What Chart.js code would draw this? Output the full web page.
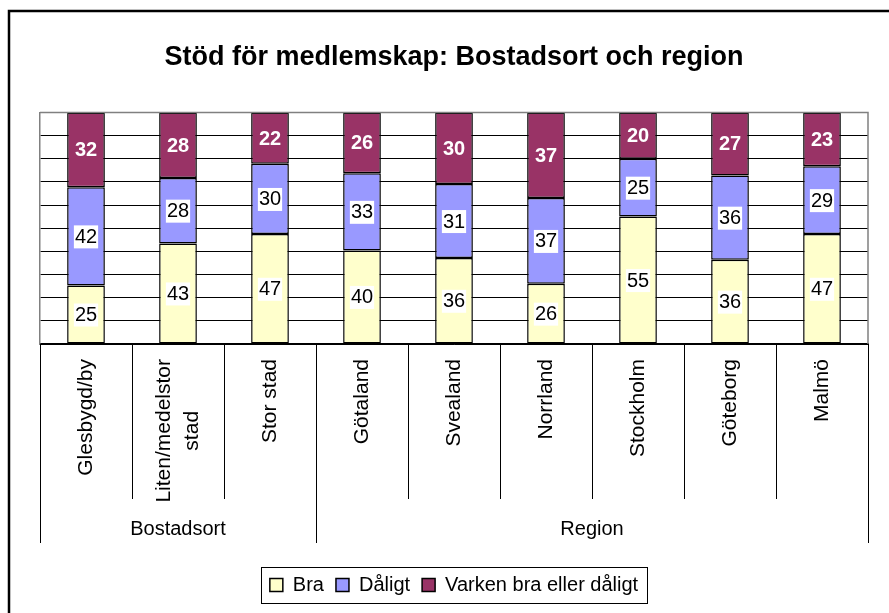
<!DOCTYPE html>
<html>
<head>
<meta charset="utf-8">
<script src="https://cdn.jsdelivr.net/npm/chart.js@4/dist/chart.umd.min.js"></script>
<style>
  html, body { margin: 0; padding: 0; background: #fff; }
  canvas { display: block; }
</style>
</head>
<body>
<canvas id="stodChart" width="889" height="613"></canvas>
<script>
// Data (percent)
const categories = ['Glesbygd/by', ['Liten/medelstor', 'stad'], 'Stor stad', 'Götaland', 'Svealand', 'Norrland', 'Stockholm', 'Göteborg', 'Malmö'];
const groups = [
    { label: 'Bostadsort', from: 0, to: 2 },
    { label: 'Region', from: 3, to: 8 },
];
const bra = [25, 43, 47, 40, 36, 26, 55, 36, 47];
const daligt = [42, 28, 30, 33, 31, 37, 25, 36, 29];
const varken = [32, 28, 22, 26, 30, 37, 20, 27, 23];

const FONT = "'Liberation Sans', Arial, sans-serif";
Chart.defaults.font.family = FONT;
Chart.defaults.color = '#000';

// 100% stacked: scale each column to its own total
const totals = bra.map((v, i) => v + daligt[i] + varken[i]);
const pct = arr => arr.map((v, i) => v / totals[i] * 100);

// Frame, plot border, data labels, category/group axis
const decorations = {
    id: 'decorations',
    beforeDraw(chart) {
        const { ctx } = chart;
        ctx.save();
        ctx.fillStyle = '#fff';
        ctx.fillRect(0, 0, chart.width, chart.height);
        ctx.strokeStyle = '#000';
        ctx.lineWidth = 2.5;
        ctx.strokeRect(9, 11, chart.width + 20, chart.height + 20);
        ctx.restore();
    },
    afterDatasetsDraw(chart) {
        const { ctx } = chart;
        ctx.save();
        ctx.textAlign = 'center';
        ctx.textBaseline = 'middle';
        chart.data.datasets.forEach((ds, di) => {
            const meta = chart.getDatasetMeta(di);
            meta.data.forEach((bar, i) => {
                const txt = String(ds.raw[i]);
                const cy = (bar.y + bar.base) / 2;
                if (di === 2) {
                    ctx.font = 'bold 20px ' + FONT;
                    ctx.fillStyle = '#fff';
                    ctx.fillText(txt, bar.x, cy + 1);
                } else {
                    ctx.font = '20px ' + FONT;
                    const w = ctx.measureText(txt).width + 2;
                    ctx.fillStyle = '#fff';
                    ctx.fillRect(bar.x - w / 2, cy - 11, w, 23);
                    ctx.fillStyle = '#000';
                    ctx.fillText(txt, bar.x, cy + 1);
                }
            });
        });
        ctx.restore();
    },
    afterDraw(chart) {
        const { ctx, chartArea: a } = chart;
        const x = chart.scales.x;
        const step = (x.right - x.left) / categories.length;
        ctx.save();
        // grey plot border top and right
        ctx.strokeStyle = '#808080';
        ctx.lineWidth = 1.5;
        ctx.beginPath();
        ctx.moveTo(a.left, a.top);
        ctx.lineTo(a.right, a.top);
        ctx.lineTo(a.right, a.bottom);
        ctx.stroke();
        // category separators below the axis
        ctx.strokeStyle = '#000';
        ctx.lineWidth = 1;
        const groupEdges = new Set();
        groups.forEach(g => { groupEdges.add(g.from); groupEdges.add(g.to + 1); });
        for (let k = 0; k <= categories.length; k++) {
            const px = Math.round(x.left + k * step) + 0.5;
            ctx.beginPath();
            ctx.moveTo(px, a.bottom);
            ctx.lineTo(px, groupEdges.has(k) ? a.bottom + 199 : a.bottom + 155);
            ctx.stroke();
        }
        // rotated category labels, block top-aligned, lines centred
        ctx.fillStyle = '#000';
        ctx.font = '21px ' + FONT;
        ctx.textAlign = 'center';
        ctx.textBaseline = 'middle';
        categories.forEach((c, i) => {
            const lines = Array.isArray(c) ? c : [c];
            const cx = x.getPixelForValue(i);
            const maxW = Math.max(...lines.map(ln => ctx.measureText(ln).width));
            lines.forEach((ln, j) => {
                const off = (j - (lines.length - 1) / 2) * 28;
                ctx.save();
                ctx.translate(cx + off, a.bottom + 15 + maxW / 2);
                ctx.rotate(-Math.PI / 2);
                ctx.fillText(ln, 0, 0);
                ctx.restore();
            });
        });
        // group labels
        ctx.font = '20px ' + FONT;
        groups.forEach(g => {
            const cx = x.left + (g.from + g.to + 1) / 2 * step;
            ctx.fillText(g.label, cx, a.bottom + 185);
        });
        // legend frame
        const boxes = chart.legend.legendHitBoxes;
        if (boxes && boxes.length) {
            const l = Math.min(...boxes.map(b => b.left));
            const r = Math.max(...boxes.map(b => b.left + b.width));
            const t = boxes[0].top;
            const h = boxes[0].height;
            ctx.strokeStyle = '#000';
            ctx.lineWidth = 1;
            ctx.strokeRect(Math.round(l - 9) + 0.5, Math.round(t + h / 2 - 18) + 0.5, Math.round(r - l + 18), 36);
        }
        ctx.restore();
    }
};

const ctx = document.getElementById('stodChart').getContext('2d');
new Chart(ctx, {
    type: 'bar',
    data: {
        labels: categories,
        datasets: [
            { label: 'Bra', raw: bra, data: pct(bra), backgroundColor: '#FFFFCC' },
            { label: 'Dåligt', raw: daligt, data: pct(daligt), backgroundColor: '#9999FF' },
            { label: 'Varken bra eller dåligt', raw: varken, data: pct(varken), backgroundColor: '#993366' },
        ].map(d => Object.assign(d, {
            borderColor: '#000',
            borderWidth: 1.5,
            borderSkipped: false,
            barPercentage: 0.41,
            categoryPercentage: 1,
        })),
    },
    options: {
        responsive: false,
        animation: false,
        layout: { padding: { left: 40, right: 21, top: 0, bottom: 8 } },
        plugins: {
            title: {
                display: true,
                text: 'Stöd för medlemskap: Bostadsort och region',
                font: { size: 27, weight: 'bold' },
                color: '#000',
                padding: { top: 41, bottom: 39 },
            },
            legend: {
                position: 'bottom',
                labels: {
                    font: { size: 20 },
                    boxWidth: 13,
                    boxHeight: 13,
                    padding: 12,
                    color: '#000',
                },
            },
            tooltip: { enabled: false },
        },
        scales: {
            x: {
                stacked: true,
                grid: { display: false },
                border: { display: true, color: '#000', width: 1.5 },
                ticks: { display: false },
                afterFit(scale) { scale.height = 219; },
            },
            y: {
                stacked: true,
                min: 0,
                max: 100,
                ticks: { display: false, stepSize: 10 },
                grid: { color: '#000', lineWidth: 1, drawTicks: false },
                border: { display: true, color: '#808080', width: 1.5 },
            },
        },
    },
    plugins: [decorations],
});
</script>
</body>
</html>
